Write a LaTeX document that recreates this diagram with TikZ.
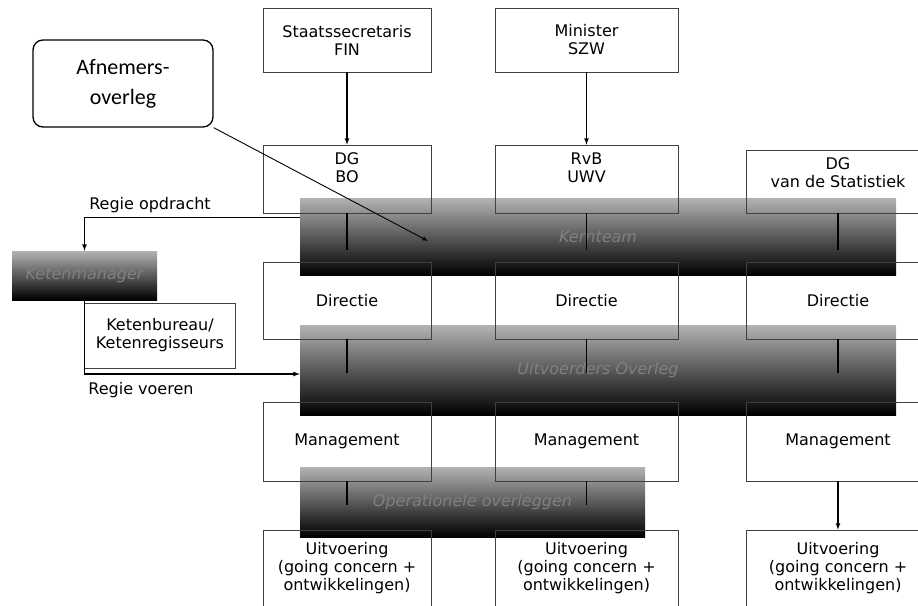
\documentclass[tikz,border=0pt]{standalone}
\usepackage{fontspec}
\setmainfont{DejaVu Sans}
\newfontfamily\calibri{Carlito}
\usetikzlibrary{positioning}

\tikzset{
  orgbox/.style={draw=black!75, line width=0.7pt, align=center, inner sep=0pt,
    font=\fontsize{16}{18}\selectfont},
  boxtext/.style={align=center, inner sep=0pt, font=\fontsize{16}{18}\selectfont},
  banner/.style={top color=black!30, middle color=black!85, bottom color=black,
    inner sep=0pt, text=black!50, font=\fontsize{16}{18}\selectfont\itshape},
  afnbox/.style={draw, rounded corners=10pt, line width=1.3pt, align=center,
    font=\calibri\fontsize{22}{30}\selectfont},
  link/.style={line width=1.2pt},
  arrowlink/.style={link, -latex},
}

\begin{document}
\begin{tikzpicture}[x=1pt, y=-1pt]
    \useasboundingbox (0,0) rectangle (918,605);

    % Overleg-balken
    \node[banner, minimum width=596pt, minimum height=77pt] (kern) at (598,236.5) {Kernteam};
    \node[banner, minimum width=596pt, minimum height=90pt] (uitvo) at (598,370) {Uitvoerders Overleg};
    \node[banner, minimum width=345pt, minimum height=70pt] (opov) at (472.5,502) {Operationele overleggen};
    \node[banner, minimum width=145pt, minimum height=49pt] (ketenman) at (84.5,275.5) {Ketenmanager};

    % Bewindspersonen
    \node[orgbox, minimum width=168pt, minimum height=64pt] (staats) at (347,40) {Staatssecretaris\\FIN};
    \node[orgbox, minimum width=183pt, minimum height=64pt] (minister) at (586.5,40) {Minister\\SZW};

    % Afnemersoverleg
    \node[afnbox, minimum width=180pt, minimum height=87pt] (afn) at (123,83.5) {Afnemers-\\overleg};

    % Top van de organisaties
    \node[orgbox, minimum width=168pt, minimum height=68pt] (dgbo) at (347,179) {};
    \node[orgbox, minimum width=183pt, minimum height=68pt] (rvb) at (586.5,179) {};
    \node[orgbox, minimum width=184pt, minimum height=63pt] (dgcbs) at (838,181.5) {};
    \node[boxtext, below=8pt of dgbo.north] (dgbotext) {DG\\BO};
    \node[boxtext, below=8pt of rvb.north] (rvbtext) {RvB\\UWV};
    \node[boxtext, below=8pt of dgcbs.north] (dgcbstext) {DG\\van de Statistiek};

    % Directies
    \node[orgbox, minimum width=168pt, minimum height=77pt] (dir1) at (347,300.5) {Directie};
    \node[orgbox, minimum width=183pt, minimum height=77pt] (dir2) at (586.5,300.5) {Directie};
    \node[orgbox, minimum width=184pt, minimum height=77pt] (dir3) at (838,300.5) {Directie};

    % Management
    \node[orgbox, minimum width=168pt, minimum height=79pt] (man1) at (347,441.5) {Management};
    \node[orgbox, minimum width=183pt, minimum height=79pt] (man2) at (586.5,441.5) {Management};
    \node[orgbox, minimum width=184pt, minimum height=79pt] (man3) at (838,441.5) {Management};

    % Uitvoering
    \node[orgbox, minimum width=168pt, minimum height=77pt] (uitv1) at (347,568.5) {Uitvoering\\(going concern +\\ontwikkelingen)};
    \node[orgbox, minimum width=183pt, minimum height=77pt] (uitv2) at (586.5,568.5) {Uitvoering\\(going concern +\\ontwikkelingen)};
    \node[orgbox, minimum width=184pt, minimum height=77pt] (uitv3) at (838,568.5) {Uitvoering\\(going concern +\\ontwikkelingen)};

    % Ketenbureau
    \node[orgbox, minimum width=151pt, minimum height=65pt] (ketenbur) at (160,335.5) {Ketenbureau/\\Ketenregisseurs};
    \node[boxtext] (regieopd) at (150,205) {Regie opdracht};
    \node[boxtext] (regievoer) at (141,390) {Regie voeren};

    % Lijnen
    \draw[arrowlink] (staats) -- (dgbo);
    \draw[arrowlink] (minister) -- (rvb);
    \draw[arrowlink] (man3) -- (uitv3);
    \foreach \b in {dgbo,rvb,dgcbs}
        \draw[link] (\b.south) -- ++(0,37);
    \foreach \b in {dir1,dir2,dir3}
        \draw[link] (\b.south) -- ++(0,34);
    \foreach \b in {man1,man2}
        \draw[link] (\b.south) -- ++(0,24);

    \coordinate (afnend) at (428,241);
    \draw[-latex, line width=0.9pt] (afn.south east) -- (afnend);

    \draw[arrowlink] ([yshift=-20pt]kern.north west) -| (ketenman.north);
    \draw[arrowlink] (ketenman.south) |- ([yshift=-4pt]uitvo.west);
\end{tikzpicture}
\end{document}
